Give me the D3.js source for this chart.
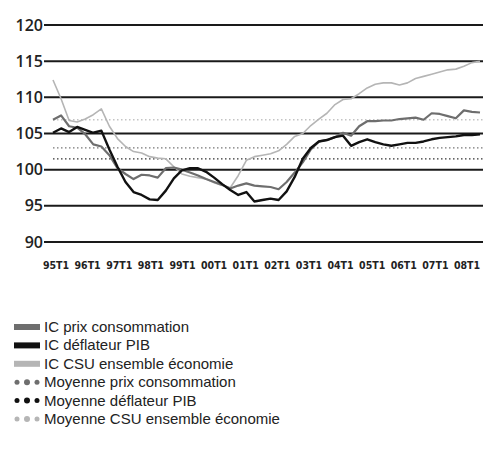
<!DOCTYPE html>
<html lang="fr">
<head>
<meta charset="UTF-8">
<title>IC prix, déflateur, CSU</title>
<style>
  body { margin: 0; background: #fff; font-family: "Liberation Sans", Arial, sans-serif; }
  .grid { stroke: #1a1a1a; stroke-width: 2px; }
  .ylab { font-family: "Open Sans", sans-serif; font-weight: 600; font-size: 16px; fill: #222; }
  .xlab { font-family: "Liberation Sans Narrow", "DejaVu Sans Condensed", sans-serif; font-weight: bold; font-size: 10.5px; fill: #222; }
  .leg { font-size: 15px; fill: #222; }
</style>
</head>
<body>
<div id="chart"></div>
<script src="https://d3js.org/d3.v7.min.js"></script>
<script>
var yTicks = [90, 95, 100, 105, 110, 115, 120];
var years = ['95T1', '96T1', '97T1', '98T1', '99T1', '00T1', '01T1', '02T1', '03T1', '04T1', '05T1', '06T1', '07T1', '08T1'];

// quarterly values from 95T1
var prixConso = [106.9, 107.5, 106.0, 105.8, 104.9, 103.5, 103.2, 102.0, 100.2, 99.4,
  98.7, 99.3, 99.2, 98.9, 100.2, 100.3, 100.0, 99.6, 99.2, 98.7,
  98.3, 97.9, 97.4, 97.8, 98.1, 97.8, 97.7, 97.6, 97.3, 98.3,
  99.6, 101.0, 102.8, 103.9, 104.1, 104.5, 105.1, 104.7, 106.0, 106.7,
  106.7, 106.8, 106.8, 107.0, 107.1, 107.2, 106.9, 107.8, 107.7, 107.4,
  107.1, 108.2, 108.0, 107.9];
var deflateur = [105.1, 105.7, 105.2, 105.9, 105.5, 105.1, 105.4, 102.8, 100.4, 98.3,
  96.9, 96.5, 95.9, 95.8, 97.1, 98.8, 99.9, 100.2, 100.2, 99.7,
  98.9, 98.0, 97.2, 96.5, 96.9, 95.6, 95.8, 96.0, 95.8, 97.0,
  99.0, 101.5, 103.0, 103.9, 104.1, 104.5, 104.7, 103.3, 103.8, 104.2,
  103.8, 103.5, 103.3, 103.5, 103.7, 103.7, 103.9, 104.2, 104.4, 104.5,
  104.6, 104.8, 104.8, 104.9];
var csu = [112.4, 109.8, 106.8, 106.6, 107.0, 107.6, 108.4, 106.0, 104.3, 103.2,
  102.5, 102.3, 101.8, 101.6, 101.5, 100.4, 99.4, 99.1, 98.9, 98.7,
  98.2, 97.8, 97.5, 99.2, 101.3, 101.8, 102.0, 102.2, 102.6, 103.5,
  104.6, 105.0, 106.1, 107.0, 107.8, 109.0, 109.7, 109.8, 110.5, 111.3,
  111.8, 112.0, 112.0, 111.7, 112.0, 112.6, 112.9, 113.2, 113.5, 113.8,
  113.9, 114.3, 114.8, 115.0];
var moyennes = [103.0, 101.5, 106.9]; // prix conso, déflateur, CSU

var width = 483, height = 457;
var svg = d3.select('#chart').append('svg')
  .attr('width', width).attr('height', height);

var y = d3.scaleLinear().domain([90, 120]).range([242, 25]);
var x = d3.scaleLinear().domain([0, prixConso.length - 1]).range([53, 480]);
var xl = d3.scalePoint().domain(years).range([56, 467]);

// grid
svg.selectAll('.grid').data(yTicks).enter().append('line')
  .attr('class', 'grid')
  .attr('x1', 44).attr('x2', width)
  .attr('y1', function(d) { return y(d); })
  .attr('y2', function(d) { return y(d); });
svg.selectAll('.ylab').data(yTicks).enter().append('text')
  .attr('class', 'ylab')
  .attr('x', 43).attr('y', function(d) { return y(d) + 5.5; })
  .attr('text-anchor', 'end')
  .text(function(d) { return d; });
svg.selectAll('.xlab').data(years).enter().append('text')
  .attr('class', 'xlab')
  .attr('x', function(d) { return xl(d); }).attr('y', 269)
  .attr('text-anchor', 'middle')
  .text(function(d) { return d; });

// averages
var avgColors = ['#777', '#333', '#c4c4c4'];
svg.selectAll('.avg').data(moyennes).enter().append('line')
  .attr('class', 'avg')
  .attr('x1', x(0)).attr('x2', width)
  .attr('y1', function(d) { return y(d); })
  .attr('y2', function(d) { return y(d); })
  .attr('stroke', function(d, i) { return avgColors[i]; })
  .attr('stroke-width', 1.3)
  .attr('stroke-dasharray', '1.5,2.5');

var line = d3.line()
  .x(function(d, i) { return x(i); })
  .y(function(d) { return y(d); });

var series = [
  { values: csu, color: '#b5b5b5', w: 1.6 },
  { values: prixConso, color: '#6e6e6e', w: 2.2 },
  { values: deflateur, color: '#111', w: 2.4 }
];
svg.selectAll('.serie').data(series).enter().append('path')
  .attr('class', 'serie')
  .attr('fill', 'none')
  .attr('stroke', function(d) { return d.color; })
  .attr('stroke-width', function(d) { return d.w; })
  .attr('stroke-linejoin', 'round')
  .attr('d', function(d) { return line(d.values); });

// legend
var legendItems = [
  { label: 'IC prix consommation', color: '#6e6e6e', type: 'bar' },
  { label: 'IC déflateur PIB', color: '#111', type: 'bar' },
  { label: 'IC CSU ensemble économie', color: '#b5b5b5', type: 'bar' },
  { label: 'Moyenne prix consommation', color: '#6e6e6e', type: 'dot' },
  { label: 'Moyenne déflateur PIB', color: '#111', type: 'dot' },
  { label: 'Moyenne CSU ensemble économie', color: '#b5b5b5', type: 'dot' }
];
var legend = svg.selectAll('.legend').data(legendItems).enter().append('g')
  .attr('class', 'legend')
  .attr('transform', function(d, i) { return 'translate(14,' + (327 + i * 18.4) + ')'; });
legend.filter(function(d) { return d.type === 'bar'; }).append('rect')
  .attr('x', 0).attr('y', -3).attr('width', 26).attr('height', 6)
  .attr('fill', function(d) { return d.color; });
legend.filter(function(d) { return d.type === 'dot'; }).selectAll('circle')
  .data(function(d) { return [d, d, d]; }).enter().append('circle')
  .attr('cx', function(d, i) { return 3 + i * 10; }).attr('cy', 0)
  .attr('r', function(d, i) { return i === 1 ? 3 : 2.5; })
  .attr('fill', function(d) { return d.color; });
legend.append('text')
  .attr('class', 'leg')
  .attr('x', 30).attr('y', 5)
  .text(function(d) { return d.label; });
</script>
</body>
</html>
